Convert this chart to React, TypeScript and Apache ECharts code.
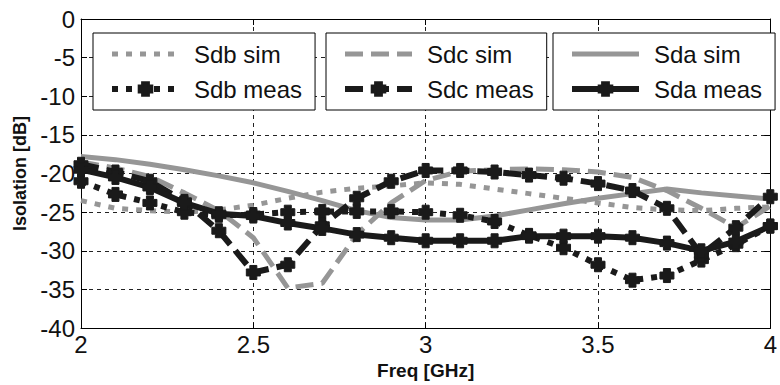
import React, { useEffect, useRef } from "react";
import * as echarts from "echarts";

const freq = [2.0, 2.1, 2.2, 2.3, 2.4, 2.5, 2.6, 2.7, 2.8, 2.9, 3.0, 3.1, 3.2, 3.3, 3.4, 3.5, 3.6, 3.7, 3.8, 3.9, 4.0];

const sdbSim = [-23.5, -24.5, -24.8, -25.0, -24.7, -24.1, -23.2, -22.4, -21.9, -21.6, -21.2, -21.4, -22.0, -22.6, -23.2, -23.8, -24.4, -24.7, -24.8, -24.5, -24.3];
const sdcSim = [-18.5, -19.3, -20.4, -22.5, -24.8, -28.3, -34.8, -34.2, -27.9, -23.8, -20.9, -19.7, -19.5, -19.4, -19.5, -19.8, -20.5, -22.2, -24.5, -27.0, -24.2];
const sdaSim = [-17.8, -18.2, -18.8, -19.5, -20.3, -21.2, -22.3, -23.5, -24.8, -25.7, -26.0, -26.0, -25.5, -24.7, -23.9, -23.2, -22.6, -22.0, -22.5, -22.9, -23.3];
const sdbMeas = [-21.0, -22.7, -23.8, -25.0, -25.4, -25.3, -25.0, -24.9, -24.9, -24.9, -25.0, -25.4, -26.2, -28.0, -29.6, -31.8, -33.8, -33.2, -31.2, -29.2, -26.8];
const sdcMeas = [-18.8, -19.8, -21.0, -23.6, -27.4, -32.8, -31.8, -26.7, -23.2, -21.0, -19.6, -19.6, -19.8, -20.2, -20.6, -21.3, -22.2, -24.5, -30.5, -27.0, -23.0];
const sdaMeas = [-19.5, -20.5, -21.8, -23.8, -25.2, -25.5, -26.4, -27.1, -27.9, -28.3, -28.7, -28.7, -28.7, -28.1, -28.1, -28.1, -28.3, -29.0, -30.0, -28.8, -26.8];

const FONT = "'Liberation Sans', Arial, Helvetica, sans-serif";
const GRAY = "#969696";
const BLACK = "#1a1a1a";
const PLUS = "path://M4,0H12V4H16V12H12V16H4V12H0V4H4Z";
const DOT: number[] = [6, 8];
const DASH: number[] = [18, 8];

function pts(vals: number[]) {
  return freq.map((f, i) => [f, vals[i]]);
}

function simSeries(name: string, vals: number[], type: any) {
  return {
    name,
    type: "line",
    data: pts(vals),
    symbol: "circle",
    showSymbol: false,
    lineStyle: { color: GRAY, width: 5, type, cap: "butt" },
    itemStyle: { color: GRAY },
    z: 2,
  };
}

function measSeries(name: string, vals: number[], type: any) {
  return {
    name,
    type: "line",
    data: pts(vals),
    symbol: PLUS,
    symbolSize: 14,
    showSymbol: true,
    lineStyle: { color: BLACK, width: 6, type, cap: "butt" },
    itemStyle: { color: BLACK, borderColor: BLACK, borderWidth: 1 },
    z: 3,
  };
}

function legendBox(left: number, names: string[]) {
  return {
    left,
    top: 33,
    orient: "vertical",
    data: [
      { name: names[0], itemStyle: { opacity: 0 } },
      { name: names[1] },
    ],
    itemWidth: 67,
    itemHeight: 17,
    itemGap: 11,
    padding: [9, 13, 9, 16],
    borderColor: "#000",
    borderWidth: 1,
    backgroundColor: "#fff",
    selectedMode: false,
    lineStyle: { width: "inherit" },
    textStyle: {
      fontFamily: FONT,
      fontSize: 24,
      color: "#111",
      lineHeight: 24,
      padding: [0, 0, 0, 10],
    },
  };
}

export default function App() {
  const ref = useRef<HTMLDivElement>(null);
  useEffect(() => {
    if (!ref.current) return;
    const chart = echarts.init(ref.current, undefined, { renderer: "svg" });
    const axisLine = { show: true, onZero: false, lineStyle: { color: "#000", width: 1 } };
    const tick = { show: true, inside: true, length: 6, lineStyle: { color: "#000" } };
    const split = { show: true, lineStyle: { color: "#222", width: 1, type: [4, 4] } };
    chart.setOption({
      animation: false,
      backgroundColor: "#fff",
      grid: { left: 81, right: 3, top: 19, bottom: 53 },
      xAxis: [
        {
          type: "value",
          min: 2,
          max: 4,
          interval: 0.5,
          axisLine,
          axisTick: tick,
          splitLine: split,
          axisLabel: { fontFamily: FONT, fontSize: 24, color: "#111", margin: 4 },
          name: "Freq [GHz]",
          nameLocation: "middle",
          nameGap: 27,
          nameTextStyle: { fontFamily: FONT, fontSize: 19, fontWeight: "bold", color: "#111" },
        },
        {
          type: "value",
          position: "top",
          min: 2,
          max: 4,
          interval: 0.5,
          axisLine,
          axisTick: tick,
          splitLine: { show: false },
          axisLabel: { show: false },
        },
      ],
      yAxis: [
        {
          type: "value",
          min: -40,
          max: 0,
          interval: 5,
          axisLine,
          axisTick: tick,
          splitLine: split,
          axisLabel: { fontFamily: FONT, fontSize: 24, color: "#111", margin: 6 },
          name: "Isolation [dB]",
          nameLocation: "middle",
          nameGap: 50,
          nameTextStyle: { fontFamily: FONT, fontSize: 18, fontWeight: "bold", color: "#111" },
        },
        {
          type: "value",
          position: "right",
          min: -40,
          max: 0,
          interval: 5,
          axisLine,
          axisTick: tick,
          splitLine: { show: false },
          axisLabel: { show: false },
        },
      ],
      legend: [
        legendBox(93, ["Sdb sim", "Sdb meas"]),
        legendBox(326, ["Sdc sim", "Sdc meas"]),
        legendBox(553, ["Sda sim", "Sda meas"]),
      ],
      series: [
        simSeries("Sdb sim", sdbSim, DOT),
        simSeries("Sdc sim", sdcSim, DASH),
        simSeries("Sda sim", sdaSim, "solid"),
        measSeries("Sdb meas", sdbMeas, DOT),
        measSeries("Sdc meas", sdcMeas, DASH),
        measSeries("Sda meas", sdaMeas, "solid"),
      ],
    });
    return () => chart.dispose();
  }, []);
  return (
    <div
      ref={ref}
      style={{ position: "fixed", left: 0, top: 0, width: 780, height: 385, background: "#fff" }}
    />
  );
}
